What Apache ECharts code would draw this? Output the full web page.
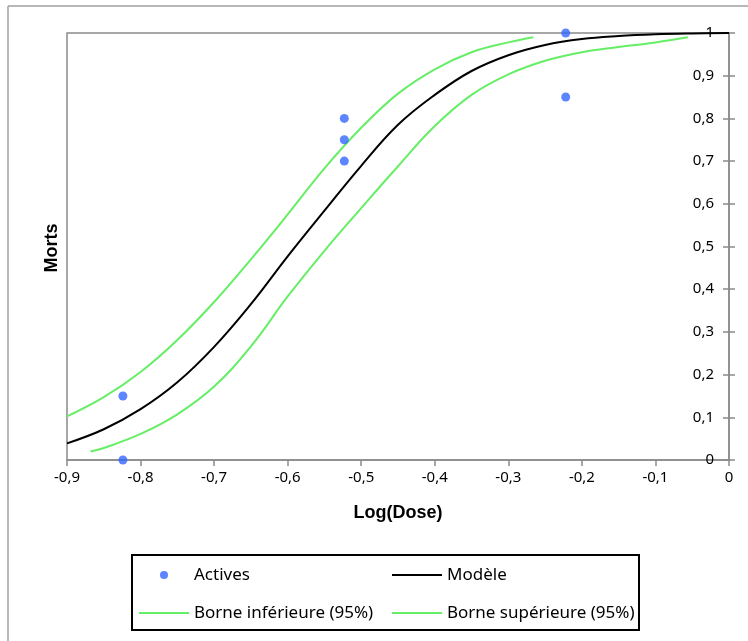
<!DOCTYPE html>
<html>
<head>
<meta charset="utf-8">
<script src="https://cdn.jsdelivr.net/npm/echarts@6/dist/echarts.min.js"></script>
<style>
  html, body { margin: 0; padding: 0; background: #fff; }
  #chart { width: 748px; height: 641px; }
</style>
</head>
<body>
<div id="chart"></div>
<script>
// observed points (log dose, proportion dead)
var activesX = [-0.824, -0.824, -0.523, -0.523, -0.523, -0.222, -0.222];
var activesY = [0.15, 0, 0.8, 0.75, 0.7, 1, 0.85];

// fitted model
var modelX = [-0.9, -0.85, -0.8, -0.75, -0.7, -0.65, -0.6, -0.55, -0.5, -0.45, -0.4, -0.35, -0.3, -0.25, -0.2, -0.15, -0.1, -0.05, 0];
var modelY = [0.039, 0.072, 0.119, 0.182, 0.265, 0.365, 0.477, 0.584, 0.689, 0.785, 0.855, 0.911, 0.948, 0.972, 0.986, 0.993, 0.997, 0.999, 1.0];

// 95% bounds
var infX = [-0.9, -0.85, -0.8, -0.75, -0.7, -0.65, -0.6, -0.55, -0.5, -0.45, -0.4, -0.35, -0.3, -0.266];
var infY = [0.102, 0.147, 0.206, 0.281, 0.37, 0.47, 0.575, 0.683, 0.778, 0.858, 0.915, 0.955, 0.978, 0.99];
var supX = [-0.868, -0.85, -0.8, -0.75, -0.7, -0.65, -0.6, -0.55, -0.5, -0.45, -0.4, -0.35, -0.3, -0.25, -0.2, -0.15, -0.1, -0.056];
var supY = [0.02, 0.028, 0.061, 0.107, 0.172, 0.266, 0.383, 0.49, 0.59, 0.688, 0.782, 0.855, 0.903, 0.935, 0.955, 0.967, 0.978, 0.99];

var xTicks = [-0.9, -0.8, -0.7, -0.6, -0.5, -0.4, -0.3, -0.2, -0.1, 0];
var yTicks = [0, 0.1, 0.2, 0.3, 0.4, 0.5, 0.6, 0.7, 0.8, 0.9, 1];

function pairs(xs, ys) {
  return xs.map(function (x, i) { return [x, ys[i]]; });
}
function comma(v) {
  return String(Number(v.toFixed(1))).replace('.', ',');
}

var green = '#66ee66';
var axisGrey = '#8a8a8a';
var txtFont = 'Noto Sans';
var lineIcon = 'path://M0,0L50,0L50,2L0,2Z';

var chart = echarts.init(document.getElementById('chart'));
chart.setOption({
  animation: false,
  backgroundColor: '#fff',
  grid: {
    left: 67, right: 19, top: 33, bottom: 181,
    show: true, borderColor: axisGrey, borderWidth: 1.5
  },
  xAxis: {
    type: 'value',
    min: xTicks[0], max: xTicks[xTicks.length - 1], interval: 0.1,
    name: 'Log(Dose)', nameLocation: 'middle', nameGap: 44,
    nameTextStyle: { fontFamily: 'Liberation Sans', fontWeight: 'bold', fontSize: 18, color: '#000' },
    axisLine: { onZero: false, lineStyle: { color: axisGrey, width: 1.5 } },
    axisTick: { length: 6, lineStyle: { color: axisGrey, width: 1.5 } },
    axisLabel: { margin: 10, fontFamily: txtFont, fontSize: 15, color: '#000', formatter: comma },
    splitLine: { show: false }
  },
  yAxis: [{
    type: 'value', position: 'right',
    min: yTicks[0], max: yTicks[yTicks.length - 1], interval: 0.1,
    axisLine: { show: true, lineStyle: { color: axisGrey, width: 1.5 } },
    axisTick: { show: true, length: 6, lineStyle: { color: axisGrey, width: 1.5 } },
    axisLabel: { inside: true, margin: 15, fontFamily: txtFont, fontSize: 15, color: '#000', formatter: comma },
    splitLine: { show: false }
  }, {
    type: 'value', position: 'right',
    min: yTicks[0], max: yTicks[yTicks.length - 1], interval: 0.1,
    axisLine: { show: false },
    axisTick: { show: true, inside: true, length: 6, lineStyle: { color: axisGrey, width: 1.5 } },
    axisLabel: { show: false },
    splitLine: { show: false }
  }],
  legend: [{
    orient: 'vertical', left: 139, top: 565, padding: 0,
    itemWidth: 50, itemHeight: 8, itemGap: 18,
    textStyle: { fontFamily: txtFont, fontSize: 17, lineHeight: 20, color: '#000' },
    data: [{ name: 'Actives', icon: 'circle' }, { name: 'Borne inférieure (95%)', icon: lineIcon }]
  }, {
    orient: 'vertical', left: 392, top: 565, padding: 0,
    itemWidth: 50, itemHeight: 8, itemGap: 18,
    textStyle: { fontFamily: txtFont, fontSize: 17, lineHeight: 20, color: '#000' },
    data: [{ name: 'Modèle', icon: lineIcon }, { name: 'Borne supérieure (95%)', icon: lineIcon }]
  }],
  graphic: [
    { type: 'line', shape: { x1: 8, y1: 6, x2: 748, y2: 6 }, style: { stroke: '#a0a0a0', lineWidth: 1.5 } },
    { type: 'line', shape: { x1: 8, y1: 6, x2: 8, y2: 641 }, style: { stroke: '#a0a0a0', lineWidth: 1.5 } },
    { type: 'rect', shape: { x: 132, y: 555, width: 507, height: 75 }, style: { fill: 'none', stroke: '#000', lineWidth: 2 }, z: 100 },
    { type: 'text', x: 52, y: 248, rotation: Math.PI / 2,
      style: { text: 'Morts', fontFamily: 'Liberation Sans', fontWeight: 'bold', fontSize: 18, fill: '#000', align: 'center', verticalAlign: 'middle' } }
  ],
  series: [{
    name: 'Borne inférieure (95%)', type: 'line', smooth: 0.4, symbol: 'none',
    lineStyle: { color: green, width: 2 }, itemStyle: { color: green },
    data: pairs(infX, infY)
  }, {
    name: 'Borne supérieure (95%)', type: 'line', smooth: 0.4, symbol: 'none',
    lineStyle: { color: green, width: 2 }, itemStyle: { color: green },
    data: pairs(supX, supY)
  }, {
    name: 'Modèle', type: 'line', smooth: 0.4, symbol: 'none',
    lineStyle: { color: '#000', width: 2 }, itemStyle: { color: '#000' },
    data: pairs(modelX, modelY)
  }, {
    name: 'Actives', type: 'scatter', symbol: 'circle', symbolSize: 9,
    itemStyle: { color: '#3366ff' }, z: 5,
    data: pairs(activesX, activesY)
  }]
});
</script>
</body>
</html>
